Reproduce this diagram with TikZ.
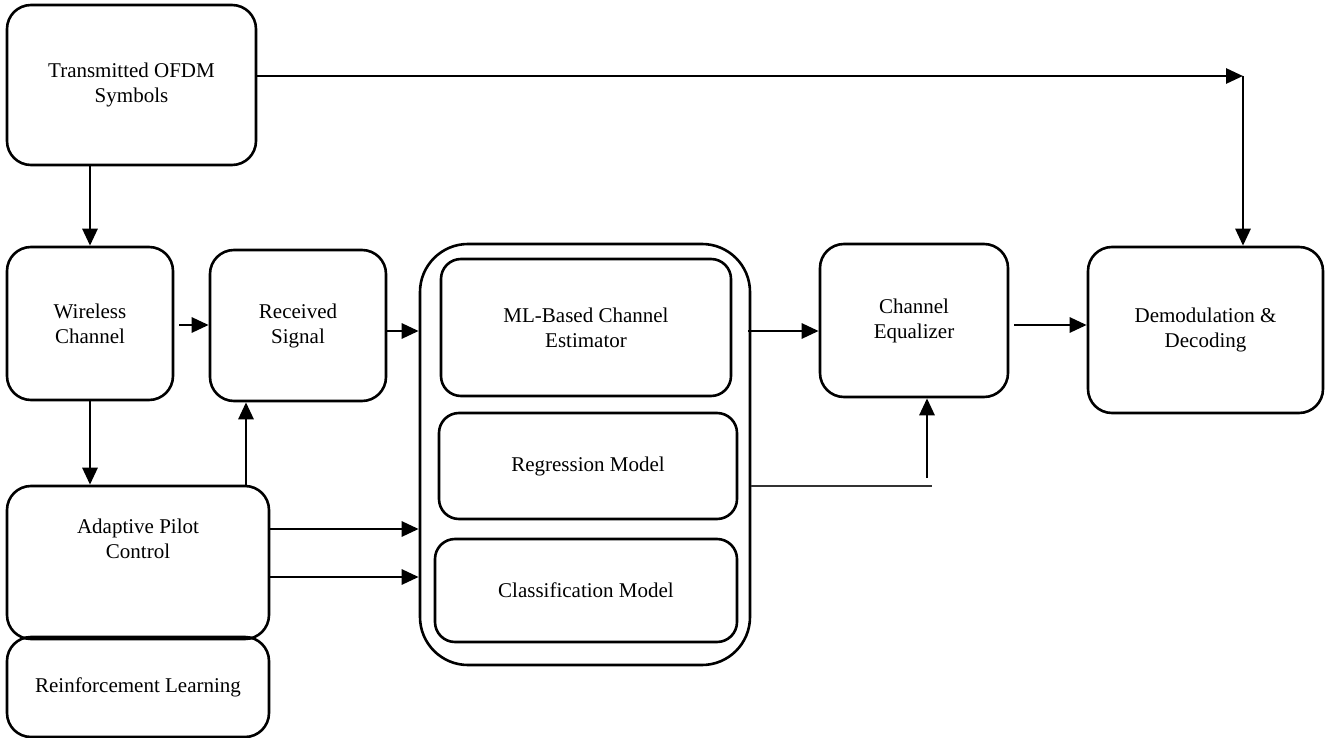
\documentclass[tikz,border=0pt]{standalone}
\usepackage{fontspec}
\setmainfont{Liberation Serif}
\usetikzlibrary{arrows.meta,calc}
\tikzset{
  blk/.style={draw, line width=2.6pt, rounded corners=24pt, align=center},
  inblk/.style={blk, rounded corners=20pt},
  arr/.style={line width=2.8pt, -{Triangle[length=17pt,width=15pt]}},
}
\begin{document}
\begin{tikzpicture}[x=1pt, y=-1pt, font=\fontsize{21}{25}\selectfont]
\useasboundingbox (0,0) rectangle (1328,738);
% blocks
\node[blk, minimum width=249pt, minimum height=160pt] (tx) at (131.5,85) {Transmitted OFDM\\Symbols};
\node[blk, minimum width=166pt, minimum height=153pt] (wc) at (90,323.5) {Wireless\\Channel};
\node[blk, minimum width=176pt, minimum height=151pt] (rs) at (298,325.5) {Received\\Signal};
\node[blk, minimum width=262pt, minimum height=153pt] (apc) at (138,562.5) {};
\node[align=center] (apctxt) at (138,539) {Adaptive Pilot\\Control};
\node[blk, minimum width=262pt, minimum height=100pt] (rl) at (138,687) {Reinforcement Learning};
% estimator group
\node[blk, rounded corners=48pt, minimum width=330pt, minimum height=421pt] (est) at (585,454.5) {};
\node[inblk, minimum width=290pt, minimum height=137pt] (ml) at (586,327.5) {ML-Based Channel\\Estimator};
\node[inblk, minimum width=298pt, minimum height=106pt] (reg) at (588,466) {Regression Model};
\node[inblk, minimum width=302pt, minimum height=103pt] (cls) at (586,590.5) {Classification Model};
\node[blk, minimum width=188pt, minimum height=153pt] (eq) at (914,320.5) {Channel\\Equalizer};
\node[blk, minimum width=235pt, minimum height=166pt] (dd) at (1205.5,330) {Demodulation \&\\Decoding};
% connectors
\coordinate (turn) at (1243,76);
\coordinate (fb) at (932,486);
\coordinate (fbup) at (927,478);
\draw[arr] (tx.south -| wc) -- (wc.north);
\draw[arr] (tx.east |- turn) -- (turn);
\draw[arr] (turn) -- (dd.north -| turn);
\draw[arr] ($(wc.east)+(5,1.5)$) -- (rs.west |- {$(wc.east)+(5,1.5)$});
\draw[arr] (wc.south) -- (apc.north -| wc.south);
\draw[arr] ([xshift=108pt]apc.north) -- ([xshift=-52pt]rs.south);
\draw[arr] ($(rs.east)+(0,5.5)$) -- (est.west |- {$(rs.east)+(0,5.5)$});
\draw[arr] ($(apc.east)+(0,-33.5)$) -- (est.west |- {$(apc.east)+(0,-33.5)$});
\draw[arr] ($(apc.east)+(0,14.5)$) -- (est.west |- {$(apc.east)+(0,14.5)$});
\draw[arr] ($(est.east |- ml.east)+(-3,3.5)$) -- (eq.west |- {$(ml.east)+(0,3.5)$});
\draw[arr] ($(eq.east)+(5,4.5)$) -- (dd.west |- {$(eq.east)+(5,4.5)$});
\draw[line width=1.2pt, black!80] (est.east |- fb) -- (fb);
\draw[arr] (fbup) -- (eq.south -| fbup);
\end{tikzpicture}
\end{document}
